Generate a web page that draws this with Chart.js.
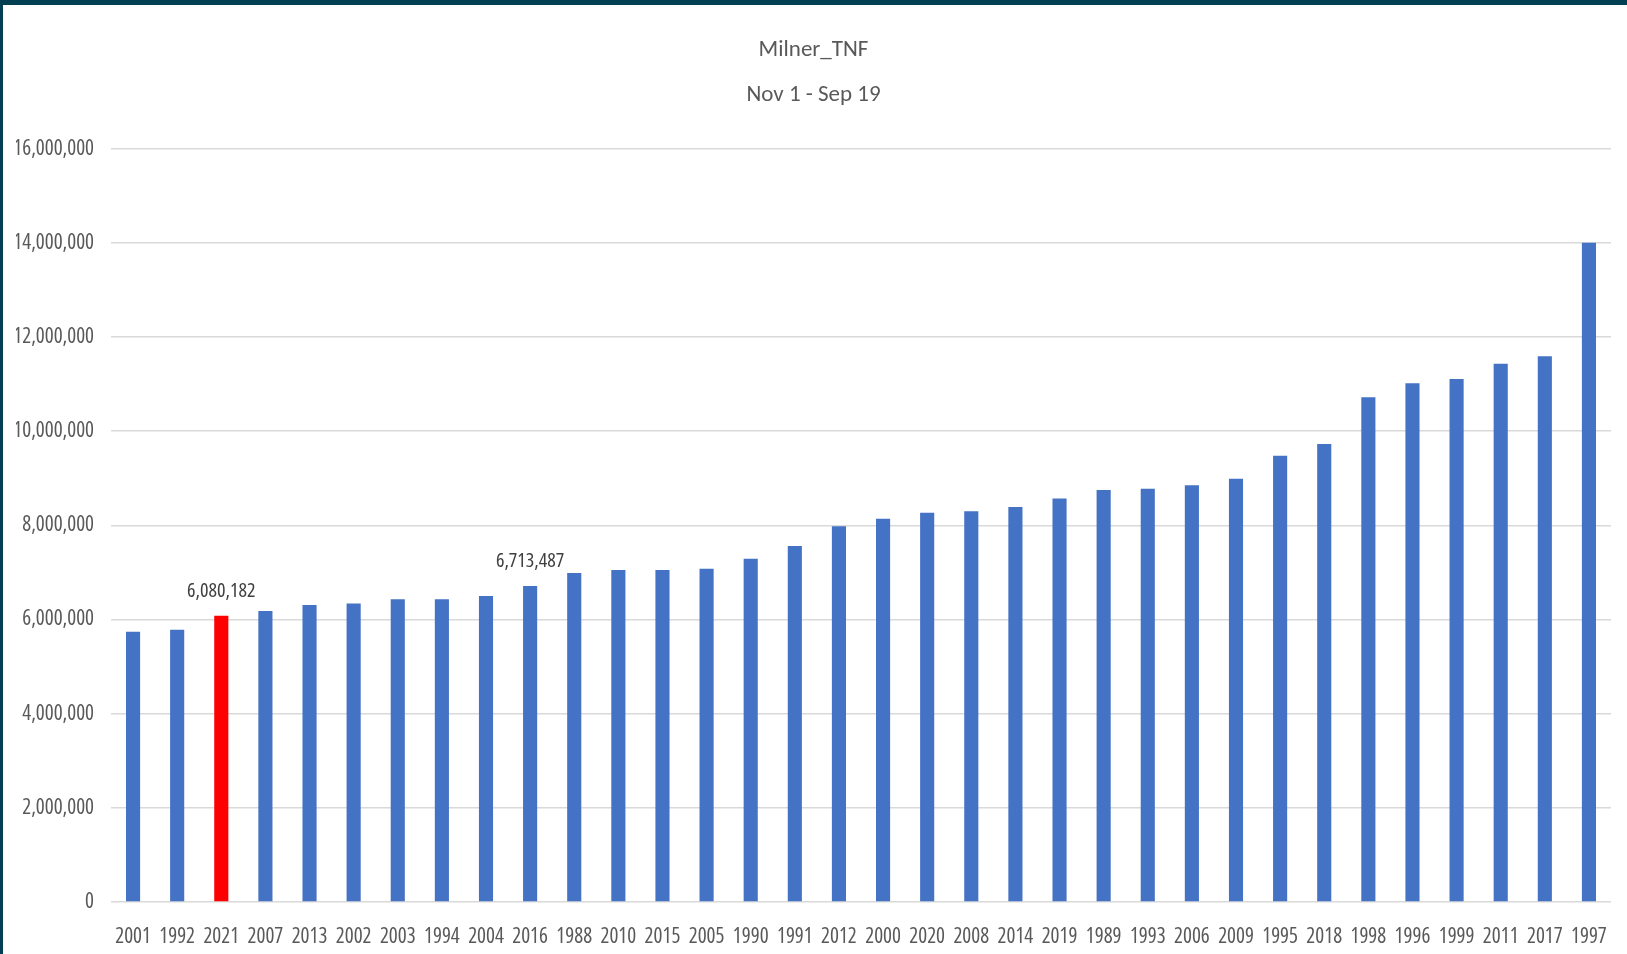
<!DOCTYPE html>
<html>
<head>
<meta charset="utf-8">
<script src="https://cdn.jsdelivr.net/npm/chart.js@4/dist/chart.umd.min.js"></script>
<style>
  html, body { margin: 0; padding: 0; background: #fff; overflow: hidden; }
  #wrap { position: relative; width: 1627px; height: 954px; }
  #chart { position: absolute; left: 0; top: 0; }
  .edge { position: absolute; background: #023f52; }
  #edgeTop { left: 0; top: 0; width: 1627px; height: 5px; }
  #edgeLeft { left: 0; top: 0; width: 3px; height: 954px; }
</style>
</head>
<body>
<div id="wrap">
  <canvas id="chart" width="1627" height="954"></canvas>
  <div class="edge" id="edgeTop"></div>
  <div class="edge" id="edgeLeft"></div>
</div>
<script>
// --- data: season volume by water year, sorted low to high
const years = ["2001","1992","2021","2007","2013","2002","2003","1994","2004","2016",
  "1988","2010","2015","2005","1990","1991","2012","2000","2020","2008",
  "2014","2019","1989","1993","2006","2009","1995","2018","1998","1996",
  "1999","2011","2017","1997"];
const volumes = [5740000, 5780000, 6080182, 6180000, 6310000, 6340000, 6430000, 6430000, 6500000, 6713487,
  6990000, 7050000, 7050000, 7080000, 7290000, 7560000, 7980000, 8140000, 8270000, 8300000,
  8390000, 8570000, 8750000, 8780000, 8850000, 8990000, 9480000, 9730000, 10720000, 11020000,
  11110000, 11430000, 11590000, 14000000];
const yTicks = [0, 2000000, 4000000, 6000000, 8000000, 10000000, 12000000, 14000000, 16000000];
const currentYear = "2021";
const labelledYears = ["2021", "2016"];
const titleLines = ["Milner_TNF", "Nov 1 - Sep 19"];

// narrow tick text: Open Sans drawn with a condensed width
const TICK_FONT = "'Open Sans', 'DejaVu Sans Condensed', sans-serif";
const TITLE_FONT = "Carlito, 'Open Sans', sans-serif";
const fmt = v => Math.round(v).toLocaleString("en-US");

const barColors = years.map(y => y === currentYear ? "#ff0000" : "#4472c4");

// keep the canvas text condensed (canvas resets drop it)
const condensedText = {
  id: "condensedText",
  beforeUpdate(chart) { chart.ctx.fontStretch = "condensed"; },
  beforeDraw(chart) { chart.ctx.fontStretch = "condensed"; }
};

// value text above selected bars
const valueLabels = {
  id: "valueLabels",
  afterDatasetsDraw(chart) {
    const ctx = chart.ctx;
    const meta = chart.getDatasetMeta(0);
    ctx.save();
    ctx.font = "20px " + TICK_FONT;
    ctx.fontStretch = "condensed";
    ctx.fillStyle = "#404040";
    ctx.textAlign = "center";
    ctx.textBaseline = "alphabetic";
    labelledYears.forEach(y => {
      const i = years.indexOf(y);
      const bar = meta.data[i];
      ctx.fillText(fmt(volumes[i]), bar.x, bar.y - 19);
    });
    ctx.restore();
  }
};

new Chart(document.getElementById("chart"), {
  type: "bar",
  data: {
    labels: years,
    datasets: [{
      data: volumes,
      backgroundColor: barColors,
      borderWidth: 0,
      barPercentage: 0.32,
      categoryPercentage: 1
    }]
  },
  options: {
    responsive: false,
    animation: false,
    layout: { padding: { left: 16, right: 16, top: 0, bottom: 0 } },
    plugins: {
      legend: { display: false },
      tooltip: { enabled: false },
      title: {
        display: true,
        text: titleLines,
        color: "#595959",
        font: { family: TITLE_FONT, size: 23, weight: "normal", lineHeight: 1.95 },
        padding: { top: 28, bottom: 31 }
      }
    },
    scales: {
      x: {
        grid: { display: false, drawTicks: false },
        border: { display: false },
        ticks: {
          color: "#595959",
          font: { family: TICK_FONT, size: 21 },
          padding: 22,
          maxRotation: 0,
          autoSkip: false
        },
        afterFit(scale) {
          scale.height = 52;
          // labels sit inside the bar slots, no extra side room needed
          scale.paddingLeft = 0;
          scale.paddingRight = 0;
        }
      },
      y: {
        min: 0,
        max: 16000000,
        grid: { color: "#d9d9d9", lineWidth: 1.5, drawTicks: false },
        border: { display: false },
        afterBuildTicks(scale) { scale.ticks = yTicks.map(v => ({ value: v })); },
        ticks: {
          color: "#595959",
          font: { family: TICK_FONT, size: 21 },
          padding: 17,
          callback: v => fmt(v)
        },
        afterFit(scale) { scale.width = 95; }
      }
    }
  },
  plugins: [condensedText, valueLabels]
});
</script>
</body>
</html>
